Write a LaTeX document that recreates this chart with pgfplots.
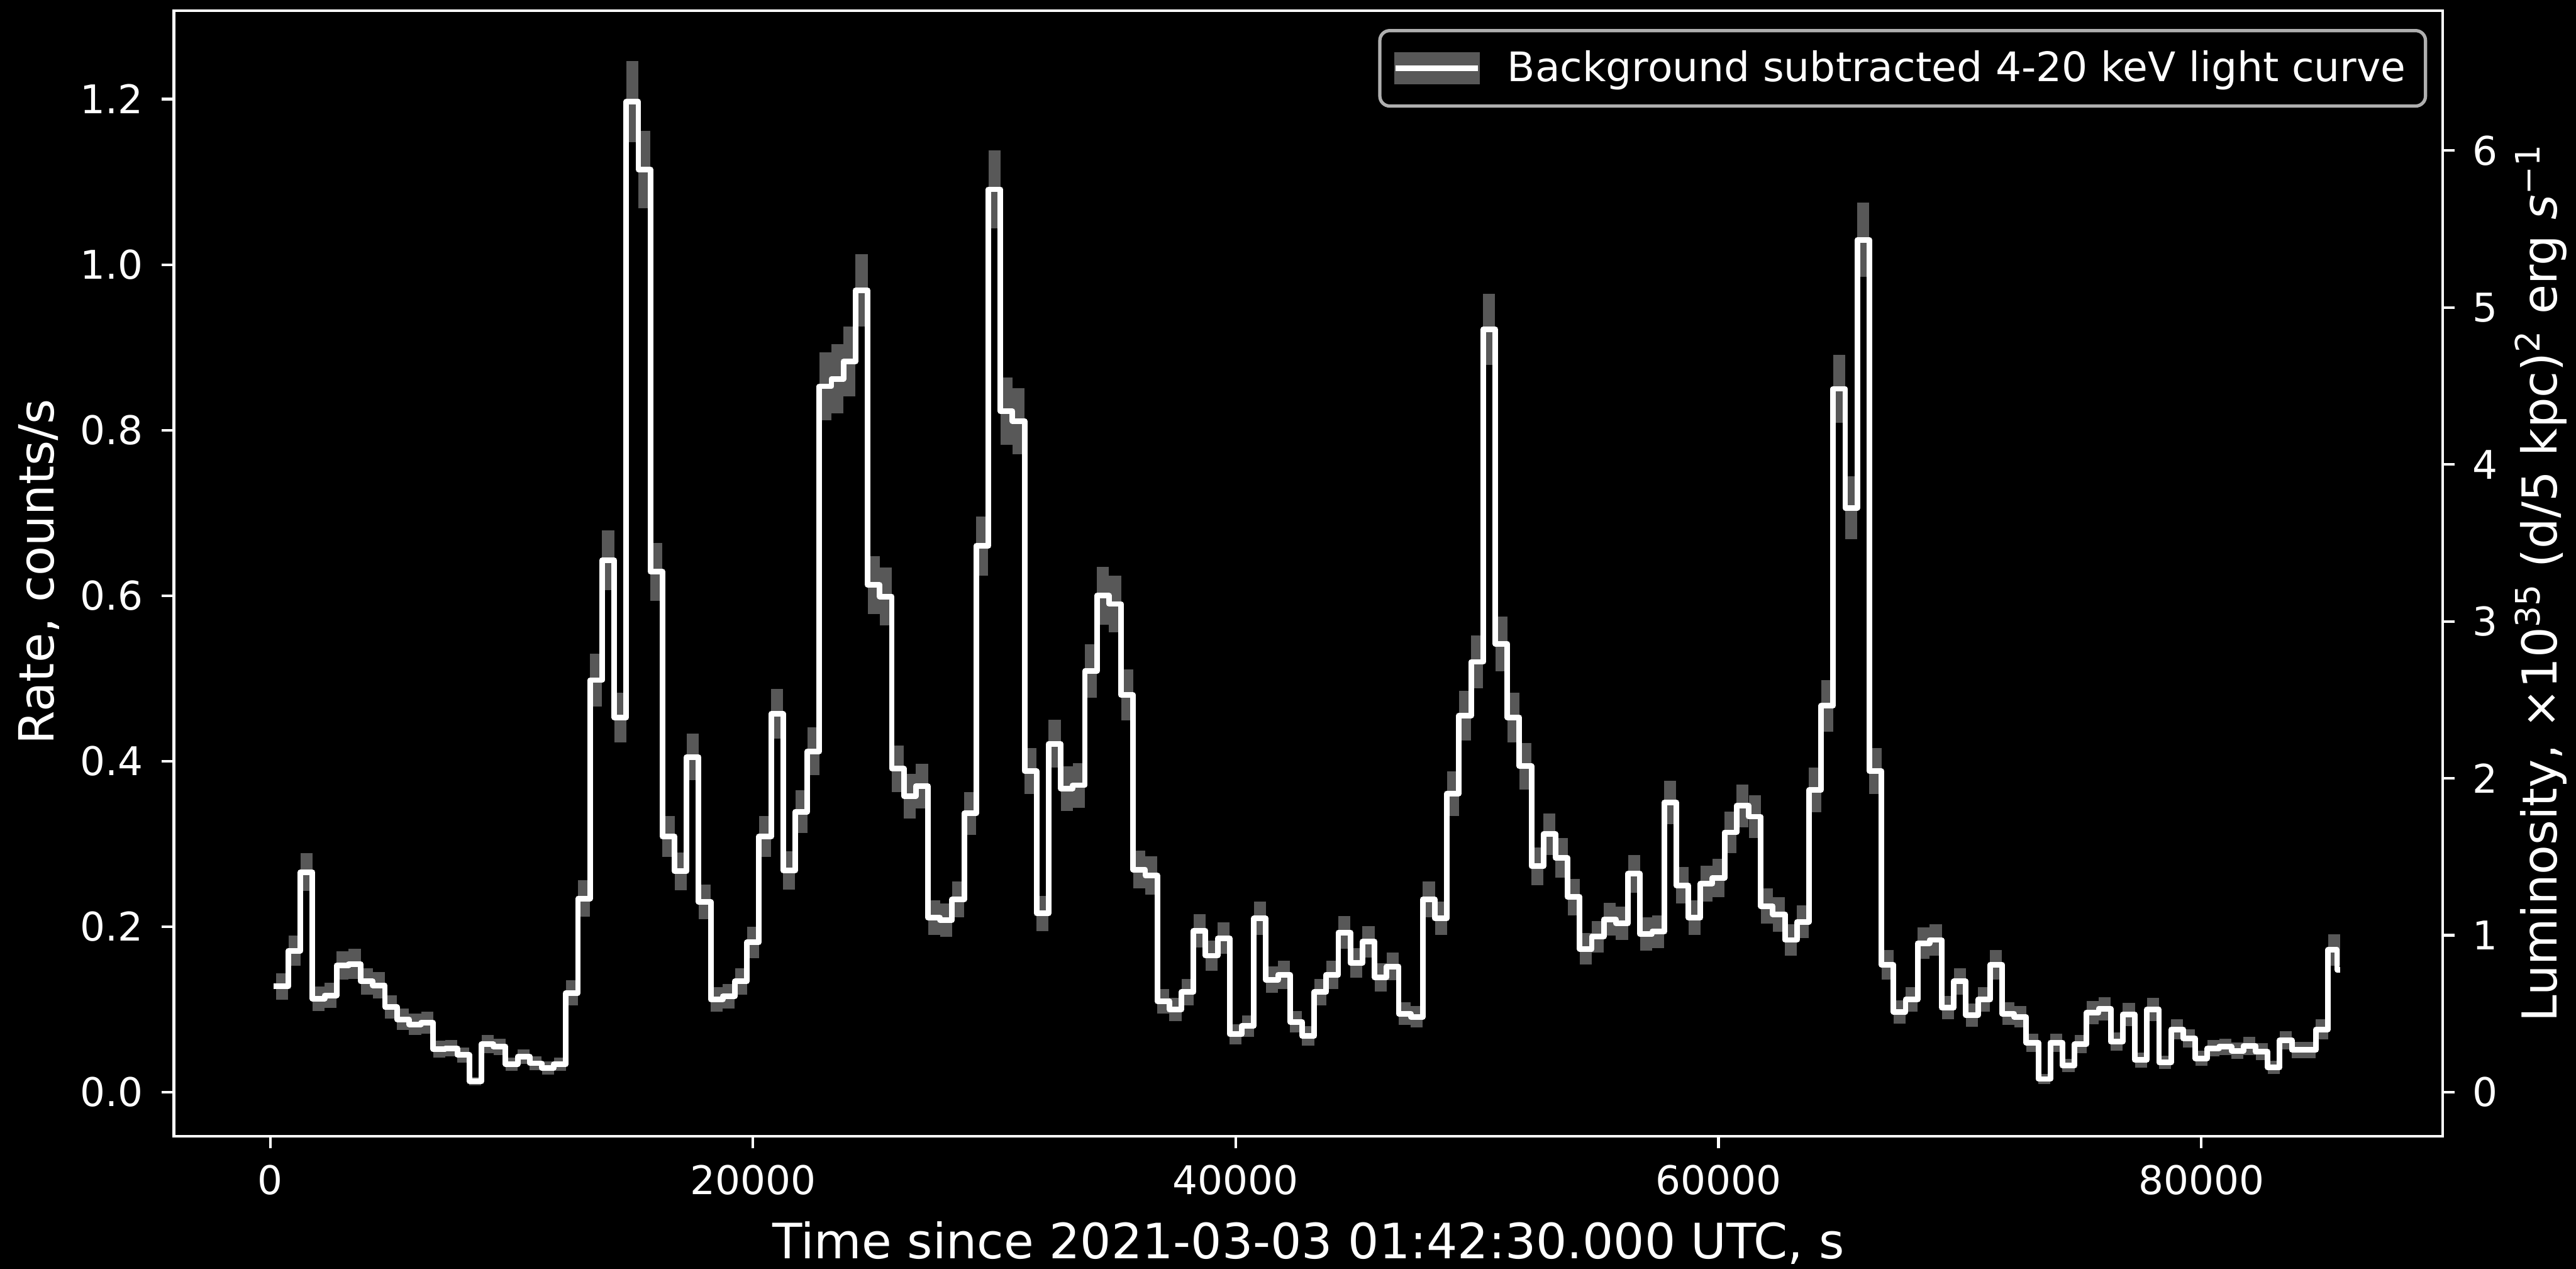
\documentclass[border=0pt]{standalone}
\usepackage{fontspec}
\setmainfont{DejaVu Sans}
\usepackage{pgfplots}
\pgfplotsset{compat=1.18}
\usepackage{pgfplotstable}
\definecolor{errgray}{RGB}{88,88,88}
\definecolor{legedge}{RGB}{175,175,175}
\pgfplotstableread{
t r e
150 0.128 0
500 0.128 0.016
1000 0.171 0.018
1500 0.266 0.023
2000 0.113 0.015
2500 0.117 0.015
3000 0.153 0.017
3500 0.155 0.018
4000 0.134 0.016
4500 0.129 0.016
5000 0.103 0.014
5500 0.088 0.013
6000 0.082 0.013
6500 0.084 0.013
7000 0.052 0.010
7500 0.053 0.010
8000 0.045 0.009
8500 0.013 0.005
9000 0.058 0.011
9500 0.055 0.010
10000 0.034 0.008
10500 0.043 0.009
11000 0.035 0.008
11500 0.029 0.008
12000 0.034 0.008
12500 0.120 0.015
13000 0.234 0.022
13500 0.498 0.032
14000 0.643 0.036
14500 0.453 0.030
15000 1.197 0.049
15500 1.115 0.047
16000 0.629 0.035
16500 0.309 0.025
17000 0.267 0.023
17500 0.405 0.028
18000 0.230 0.021
18500 0.112 0.015
19000 0.116 0.015
19500 0.134 0.016
20000 0.181 0.019
20500 0.309 0.025
21000 0.457 0.030
21500 0.268 0.023
22000 0.339 0.026
22500 0.412 0.029
23000 0.853 0.041
23500 0.862 0.042
24000 0.883 0.042
24500 0.969 0.044
25000 0.613 0.035
25500 0.599 0.035
26000 0.391 0.028
26500 0.358 0.027
27000 0.370 0.027
27500 0.211 0.021
28000 0.208 0.020
28500 0.233 0.022
29000 0.337 0.026
29500 0.660 0.036
30000 1.091 0.047
30500 0.823 0.041
31000 0.811 0.040
31500 0.388 0.028
32000 0.216 0.021
32500 0.421 0.029
33000 0.367 0.027
33500 0.371 0.027
34000 0.509 0.032
34500 0.600 0.035
35000 0.590 0.034
35500 0.480 0.031
36000 0.269 0.023
36500 0.262 0.023
37000 0.110 0.015
37500 0.100 0.014
38000 0.121 0.016
38500 0.195 0.020
39000 0.165 0.018
39500 0.186 0.019
40000 0.070 0.012
40500 0.080 0.013
41000 0.210 0.020
41500 0.136 0.016
42000 0.142 0.017
42500 0.085 0.013
43000 0.068 0.012
43500 0.121 0.016
44000 0.142 0.017
44500 0.193 0.020
45000 0.156 0.018
45500 0.182 0.019
46000 0.139 0.017
46500 0.152 0.017
47000 0.095 0.014
47500 0.091 0.013
48000 0.233 0.022
48500 0.210 0.020
49000 0.361 0.027
49500 0.455 0.030
50000 0.520 0.032
50500 0.922 0.043
51000 0.542 0.033
51500 0.453 0.030
52000 0.394 0.028
52500 0.273 0.023
53000 0.312 0.025
53500 0.283 0.024
54000 0.236 0.022
54500 0.173 0.019
55000 0.188 0.019
55500 0.209 0.020
56000 0.204 0.020
56500 0.264 0.023
57000 0.191 0.020
57500 0.194 0.020
58000 0.350 0.026
58500 0.250 0.022
59000 0.211 0.021
59500 0.252 0.022
60000 0.259 0.023
60500 0.314 0.025
61000 0.346 0.026
61500 0.333 0.026
62000 0.225 0.021
62500 0.215 0.021
63000 0.184 0.019
63500 0.206 0.020
64000 0.365 0.027
64500 0.467 0.031
65000 0.850 0.041
65500 0.706 0.038
66000 1.030 0.045
66500 0.388 0.028
67000 0.154 0.018
67500 0.097 0.014
68000 0.112 0.015
68500 0.180 0.019
69000 0.184 0.019
69500 0.102 0.014
70000 0.134 0.016
70500 0.093 0.014
71000 0.112 0.015
71500 0.154 0.018
72000 0.095 0.014
72500 0.091 0.013
73000 0.060 0.011
73500 0.016 0.006
74000 0.060 0.011
74500 0.032 0.008
75000 0.058 0.011
75500 0.096 0.014
76000 0.101 0.014
76500 0.061 0.011
77000 0.094 0.014
77500 0.039 0.009
78000 0.100 0.014
78500 0.036 0.008
79000 0.076 0.012
79500 0.065 0.011
80000 0.041 0.009
80500 0.053 0.010
81000 0.055 0.010
81500 0.050 0.010
82000 0.056 0.011
82500 0.049 0.010
83000 0.030 0.008
83500 0.063 0.011
84000 0.051 0.010
84500 0.051 0.010
85000 0.076 0.012
85500 0.172 0.019
85750 0.148 0
}\lc
\begin{document}
\begin{tikzpicture}
\fill[black] (0,0) rectangle (782pt,385pt);
\begin{axis}[
  name=main,
  at={(52.8pt,40.2pt)}, anchor=south west,
  scale only axis, width=688.7pt, height=341.5pt,
  xmin=-3990, xmax=90000, ymin=-0.0532, ymax=1.3067,
  xtick={0,20000,40000,60000,80000},
  ytick={0,0.2,0.4,0.6,0.8,1.0,1.2},
  scaled x ticks=false, scaled y ticks=false,
  xtick pos=bottom, ytick pos=left,
  tick align=outside, major tick length=3.7pt,
  axis line style={white, line width=0.8pt},
  tick style={white, line width=0.8pt},
  /pgf/number format/assume math mode=true,
  tick label style={text=white, font=\fontsize{12}{14}\selectfont},
  xticklabel style={/pgf/number format/1000 sep={}, yshift=-1.6pt},
  yticklabel style={/pgf/number format/.cd, fixed, fixed zerofill, precision=1, /tikz/.cd, xshift=-2.1pt},
  legend style={at={(1,1)}, anchor=north east, xshift=-4.7pt, yshift=-5.5pt,
    fill=black, draw=legedge, line width=1pt, rounded corners=3pt,
    text=white, font=\fontsize{12.35}{14.5}\selectfont,
    inner xsep=4pt, inner ysep=4pt,
    /tikz/every odd column/.append style={column sep=6pt}},
  legend cell align=left,
]
\addplot[draw=none, mark=none, forget plot,
  error bars/.cd, y dir=both, y explicit, error mark=none,
  error bar style={draw=errgray, line width=3.65pt, line cap=butt}]
  table[x=t, y=r, y error=e]{\lc};
\addplot[white, line width=1.7pt, line join=round, mark=none, const plot mark mid, forget plot]
  table[x=t, y=r]{\lc};
\addlegendimage{legend image code/.code={
  \fill[errgray, sharp corners] (0pt,-4.35pt) rectangle (25pt,4.35pt);
  \draw[white, line width=1.7pt, sharp corners] (0pt,0pt) -- (25pt,0pt);}}
\addlegendentry{Background subtracted 4-20 keV light curve}
\end{axis}
\begin{axis}[
  at={(52.8pt,40.2pt)}, anchor=south west,
  scale only axis, width=688.7pt, height=341.5pt,
  xmin=-3990, xmax=90000, ymin=-0.2806, ymax=6.890,
  axis x line=none, axis y line*=right,
  ytick={0,1,2,3,4,5,6},
  tick align=outside, major tick length=3.7pt,
  axis line style={white, line width=0.8pt},
  tick style={white, line width=0.8pt},
  /pgf/number format/assume math mode=true,
  tick label style={text=white, font=\fontsize{12}{14}\selectfont},
  yticklabel style={xshift=1.8pt},
]
\addplot[draw=none, mark=none] coordinates {(0,0)};
\end{axis}
\node[rotate=90, anchor=base, text=white, font=\fontsize{14.7}{17}\selectfont] at (16.3pt,211.5pt) {Rate, counts/s};
\node[anchor=base, text=white, font=\fontsize{14.8}{17}\selectfont] at (397.2pt,3pt) {Time since 2021-03-03 01:42:30.000 UTC, s};
\node[rotate=90, anchor=base, text=white, font=\fontsize{14.6}{17}\selectfont] at (776.2pt,208.2pt) {Luminosity, ×10\textsuperscript{35} (d/5 kpc)\textsuperscript{2} erg \textit{s}\textsuperscript{−1}};
\pgfresetboundingbox
\useasboundingbox (0,0) rectangle (782pt,385pt);
\end{tikzpicture}
\end{document}
